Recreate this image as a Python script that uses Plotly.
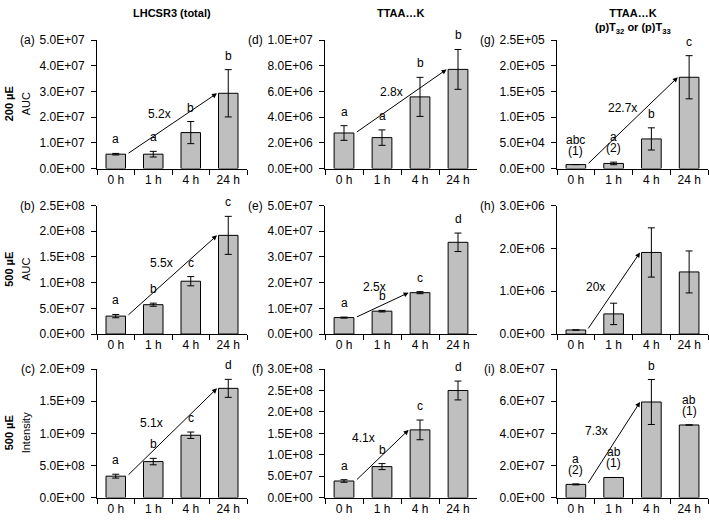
import plotly.graph_objects as go

# ---------------- data ----------------
categories = ["0 h", "1 h", "4 h", "24 h"]

col_titles = ["LHCSR3 (total)", "TTAA…K", "TTAA…K<br>(p)T<sub>32</sub> or (p)T<sub>33</sub>"]
row_titles = ["200 µE", "500 µE", "500 µE"]
row_measures = ["AUC", "AUC", "Intensity"]
panel_letters = ["(a)", "(d)", "(g)", "(b)", "(e)", "(h)", "(c)", "(f)", "(i)"]

# row 1 (200 µE, AUC)
a_vals = [5.6e6, 5.6e6, 1.40e7, 2.93e7]
a_err = [0.3e6, 1.1e6, 4.3e6, 9.2e6]
a_letters = ["a", "a", "b", "b"]
a_ticks = [0, 1e7, 2e7, 3e7, 4e7, 5e7]

d_vals = [2.77e6, 2.41e6, 5.58e6, 7.72e6]
d_err = [0.57e6, 0.6e6, 1.52e6, 1.55e6]
d_letters = ["a", "a", "b", "b"]
d_ticks = [0, 2e6, 4e6, 6e6, 8e6, 1e7]

g_vals = [7.8e3, 1.0e4, 5.77e4, 1.777e5]
g_err = [None, 2.5e3, 2.16e4, 4.2e4]
g_letters = ["abc\n(1)", "a\n(2)", "b", "c"]
g_ticks = [0, 5e4, 1e5, 1.5e5, 2e5, 2.5e5]

# row 2 (500 µE, AUC)
b_vals = [3.49e7, 5.71e7, 1.028e8, 1.92e8]
b_err = [0.32e7, 0.3e7, 0.9e7, 3.7e7]
b_letters = ["a", "b", "c", "c"]
b_ticks = [0, 5e7, 1e8, 1.5e8, 2e8, 2.5e8]

e_vals = [6.4e6, 8.9e6, 1.61e7, 3.57e7]
e_err = [0.2e6, 0.3e6, 0.4e6, 3.6e6]
e_letters = ["a", "b", "c", "d"]
e_ticks = [0, 1e7, 2e7, 3e7, 4e7, 5e7]

h_vals = [9.5e4, 4.7e5, 1.905e6, 1.45e6]
h_err = [None, 2.5e5, 5.75e5, 4.9e5]
h_letters = ["", "", "", ""]
h_ticks = [0, 1e6, 2e6, 3e6]

# row 3 (500 µE, Intensity)
c_vals = [3.33e8, 5.6e8, 9.7e8, 1.70e9]
c_err = [0.3e8, 0.5e8, 0.5e8, 1.4e8]
c_letters = ["a", "b", "c", "d"]
c_ticks = [0, 5e8, 1e9, 1.5e9, 2e9]

f_vals = [3.87e7, 7.23e7, 1.58e8, 2.50e8]
f_err = [0.3e7, 0.7e7, 2.3e7, 2.2e7]
f_letters = ["a", "b", "c", "d"]
f_ticks = [0, 5e7, 1e8, 1.5e8, 2e8, 2.5e8, 3e8]

i_vals = [8.2e6, 1.25e7, 5.95e7, 4.52e7]
i_err = [0.3e6, None, 1.4e7, None]
i_letters = ["a\n(2)", "ab\n(1)", "b", "ab\n(1)"]
i_ticks = [0, 2e7, 4e7, 6e7, 8e7]

# fold-change arrows: (from index, to index, label)
a_fold = (0, 3, "5.2x")
d_fold = (0, 3, "2.8x")
g_fold = (0, 3, "22.7x")
b_fold = (0, 3, "5.5x")
e_fold = (0, 2, "2.5x")
h_fold = (0, 2, "20x")
c_fold = (0, 3, "5.1x")
f_fold = (0, 2, "4.1x")
i_fold = (0, 2, "7.3x")

# ---------------- layout constants ----------------
W, H = 709, 525
col_px = [(97, 247), (325, 477), (557, 708)]
row_px = [(34, 166), (204, 336), (372, 504)]
# label offsets (px) of fold text relative to arrow midpoint
fold_offsets = [(-13, 10), (-10, 9), (-10, 13),
                (-11, 13), (-8, 18), (-18, 4),
                (-21, 9), (-19, 17), (-17, 12)]

FONT = "Liberation Sans, Arial, sans-serif"
BAR_FILL = "#bfbfbf"


def fx(px):
    return px / W


def fy(py):
    return 1 - py / H


panels = [
    (a_vals, a_err, a_letters, a_ticks, a_fold),
    (d_vals, d_err, d_letters, d_ticks, d_fold),
    (g_vals, g_err, g_letters, g_ticks, g_fold),
    (b_vals, b_err, b_letters, b_ticks, b_fold),
    (e_vals, e_err, e_letters, e_ticks, e_fold),
    (h_vals, h_err, h_letters, h_ticks, h_fold),
    (c_vals, c_err, c_letters, c_ticks, c_fold),
    (f_vals, f_err, f_letters, f_ticks, f_fold),
    (i_vals, i_err, i_letters, i_ticks, i_fold),
]

fig = go.Figure()
annotations = []
layout = dict(
    width=W, height=H, margin=dict(l=0, r=0, t=0, b=0, pad=0),
    paper_bgcolor="white", plot_bgcolor="white", showlegend=False,
    font=dict(family=FONT, size=12, color="black"),
    bargap=0.48,
)

for k, (vals, err, letters, ticks, fold) in enumerate(panels):
    r, c = divmod(k, 3)
    n = k + 1
    xa = "x" if n == 1 else f"x{n}"
    ya = "y" if n == 1 else f"y{n}"
    xkey = "xaxis" if n == 1 else f"xaxis{n}"
    ykey = "yaxis" if n == 1 else f"yaxis{n}"

    fig.add_trace(go.Bar(
        x=categories, y=vals, xaxis=xa, yaxis=ya,
        marker=dict(color=BAR_FILL, line=dict(color="black", width=1)),
        error_y=dict(type="data", array=err, color="black", thickness=1, width=3.5),
        hoverinfo="skip",
    ))

    x0, x1 = col_px[c]
    y0, y1 = row_px[r]
    layout[xkey] = dict(
        domain=[fx(x0), fx(x1)], anchor=ya, type="category",
        range=[-0.5, 3.5], showline=True, linecolor="black", linewidth=1,
        ticks="outside", tickson="boundaries", ticklen=5, tickcolor="black",
        showgrid=False, zeroline=False, tickfont=dict(size=12, family=FONT),
        fixedrange=True,
    )
    layout[ykey] = dict(
        domain=[fy(y1), fy(y0)], anchor=xa,
        range=[0, ticks[-1]], tickvals=ticks,
        ticktext=[f"{t:.1E}" for t in ticks],
        showline=True, linecolor="black", linewidth=1,
        ticks="outside", ticklen=5, tickcolor="black",
        showgrid=False, zeroline=False, tickfont=dict(size=12, family=FONT),
        ticklabelstandoff=4,
        fixedrange=True,
    )

    # significance letters
    for idx, lab in enumerate(letters):
        if not lab:
            continue
        top = vals[idx] + (err[idx] or 0)
        lines = lab.split("\n")
        for j, line in enumerate(reversed(lines)):
            annotations.append(dict(
                x=idx, y=top, xref=xa, yref=ya, text=line, showarrow=False,
                xanchor="center", yanchor="middle", yshift=14 + 11 * j,
                font=dict(size=12, family=FONT, color="black"),
            ))

    # fold-change arrow from bar i0 (top-right) to bar i1 (top-left)
    i0, i1, ftxt = fold
    sx, sy = i0 + 0.30, vals[i0]
    ex, ey = i1 - 0.30, vals[i1]
    annotations.append(dict(
        x=ex, y=ey, ax=sx, ay=sy, xref=xa, yref=ya, axref=xa, ayref=ya,
        showarrow=True, arrowhead=2, arrowsize=1, arrowwidth=1,
        arrowcolor="black", text="", standoff=0, startstandoff=0,
    ))
    dxp, dyp = fold_offsets[k]
    annotations.append(dict(
        x=(sx + ex) / 2, y=(sy + ey) / 2, xref=xa, yref=ya, text=ftxt,
        showarrow=False, xanchor="center", yanchor="middle",
        xshift=dxp, yshift=dyp,
        font=dict(size=12, family=FONT, color="black"),
    ))

    # panel letter
    annotations.append(dict(
        x=0, y=1, xref=f"{xa} domain", yref=f"{ya} domain", text=panel_letters[k],
        showarrow=False, xanchor="right", yanchor="middle", xshift=-60,
        font=dict(size=12, family=FONT, color="black"),
    ))

# column titles
for c, t in enumerate(col_titles):
    x0, x1 = col_px[c]
    annotations.append(dict(
        x=fx((x0 + x1) / 2), y=1, xref="paper", yref="paper", text=f"<b>{t}</b>",
        showarrow=False, xanchor="center", yanchor="top", yshift=2,
        font=dict(size=11, family=FONT, color="black"),
    ))

# row titles
for r, (rt, rm) in enumerate(zip(row_titles, row_measures)):
    y0, y1 = row_px[r]
    yc = fy((y0 + y1) / 2)
    annotations.append(dict(
        x=fx(9), y=yc, xref="paper", yref="paper", text=f"<b>{rt}</b>",
        showarrow=False, textangle=-90, xanchor="center", yanchor="middle",
        font=dict(size=11, family=FONT, color="black"),
    ))
    annotations.append(dict(
        x=fx(26), y=yc, xref="paper", yref="paper", text=rm,
        showarrow=False, textangle=-90, xanchor="center", yanchor="middle",
        font=dict(size=11, family=FONT, color="black"),
    ))

layout["annotations"] = annotations
fig.update_layout(**layout)
fig.write_html(
    "out.html",
    config={"displayModeBar": False},
    post_script="document.body.style.margin='0';"
                "document.documentElement.style.overflow='hidden';",
)
